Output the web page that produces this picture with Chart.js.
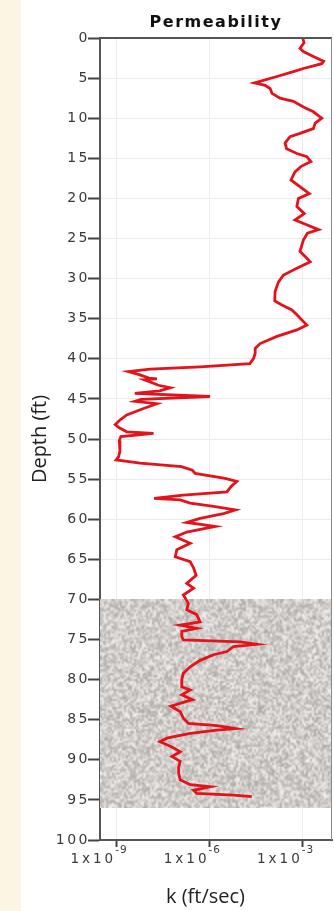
<!DOCTYPE html>
<html>
<head>
<meta charset="utf-8">
<script src="https://cdn.jsdelivr.net/npm/chart.js@4/dist/chart.umd.min.js"></script>
<style>
  html, body { margin: 0; padding: 0; background: #fdf5e3; }
  #panel { position: absolute; left: 21px; top: 0; width: 313px; height: 911px; background: #fff; }
  canvas { display: block; }
</style>
</head>
<body>
<div id="panel"><canvas id="permChart" width="313" height="911"></canvas></div>
<script>
var depthFt = [
  0.0, 0.6, 1.3, 1.7, 2.3, 2.9, 3.2, 3.8, 4.2, 4.8,
  5.6, 5.9, 6.3, 6.9, 7.5, 7.9, 8.6, 9.2, 10.0, 10.6,
  11.3, 11.9, 12.3, 13.1, 13.8, 14.4, 14.8, 15.4, 16.0, 16.7,
  17.7, 19.4, 20.0, 21.0, 21.9, 22.7, 23.9, 24.35, 25.2, 26.6,
  27.9, 28.7, 29.55, 30.4, 31.6, 32.8, 33.3, 33.9, 34.5, 35.8,
  36.4, 37.2, 38.1, 38.7, 39.3, 39.95, 40.6, 41.0, 41.3, 41.6,
  42.0, 42.4, 42.5, 42.6, 43.3, 43.6, 44.0, 44.3, 44.7, 45.05,
  45.3, 45.6, 46.2, 47.0, 47.6, 48.2, 48.6, 49.1, 49.3, 49.7,
  50.2, 51.5, 52.2, 52.6, 53.0, 53.45, 53.9, 54.3, 54.9, 55.3,
  55.9, 56.6, 57.0, 57.4, 57.6, 58.0, 58.4, 58.85, 59.3, 59.9,
  60.4, 60.9, 61.6, 62.2, 63.0, 63.8, 64.7, 65.3, 66.1, 67.0,
  68.0, 68.6, 69.45, 70.5, 71.3, 71.9, 72.8, 73.2, 73.6, 74.0,
  74.65, 75.06, 75.3, 75.6, 75.9, 76.5, 76.9, 77.6, 78.4, 79.2,
  80.0, 80.9, 81.3, 81.9, 82.5, 83.3, 84.0, 84.8, 85.45, 85.75,
  86.1, 86.3, 86.7, 87.3, 87.75, 88.4, 89.0, 89.6, 90.2, 90.9,
  91.7, 92.5, 93.1, 93.35, 93.8, 94.2, 94.4, 94.6
];
var logK = [
  -3.00, -2.96, -3.09, -2.98, -2.66, -2.33, -2.39, -2.98, -3.30, -3.83,
  -4.55, -4.21, -4.05, -3.99, -3.73, -3.30, -2.98, -2.66, -2.39, -2.60,
  -2.66, -3.09, -3.41, -3.57, -3.52, -3.19, -2.87, -2.74, -3.05, -3.25,
  -3.38, -2.79, -3.14, -3.19, -2.95, -3.25, -2.49, -2.85, -2.98, -3.09,
  -2.76, -3.19, -3.62, -3.78, -3.89, -3.90, -3.67, -3.35, -3.19, -2.87,
  -3.19, -3.83, -4.37, -4.53, -4.53, -4.58, -4.70, -6.30, -7.91, -8.60,
  -8.23, -7.95, -7.69, -8.10, -7.64, -7.26, -7.60, -8.40, -5.98, -8.20,
  -8.40, -7.69, -8.12, -8.66, -8.87, -9.03, -8.90, -8.66, -7.80, -8.85,
  -8.90, -8.88, -8.92, -9.00, -8.23, -6.90, -6.55, -6.46, -5.50, -5.12,
  -5.30, -5.44, -6.84, -7.78, -6.94, -6.62, -5.87, -5.17, -5.55, -6.30,
  -6.73, -5.82, -6.73, -7.10, -6.62, -7.05, -7.10, -6.62, -6.51, -6.43,
  -6.73, -6.51, -6.84, -6.68, -6.73, -6.41, -6.30, -6.94, -6.41, -6.89,
  -6.89, -6.84, -5.01, -4.48, -5.23, -5.44, -5.87, -6.30, -6.62, -6.84,
  -6.89, -6.89, -6.62, -6.89, -6.55, -7.24, -6.94, -6.84, -6.68, -5.76,
  -5.17, -5.76, -6.62, -7.37, -7.59, -7.21, -6.94, -7.21, -6.94, -6.99,
  -6.99, -6.94, -6.62, -5.98, -6.51, -6.41, -5.23, -4.64
];
var kTickExp = [-9, -6, -3];
var kMinExp = -9.52, kMaxExp = -2.06;
var depthMin = 0, depthMax = 100, depthStep = 5;
var sandTop = 70, sandBottom = 96;

function mulberry32(a) {
  return function () {
    a |= 0; a = a + 0x6D2B79F5 | 0;
    var t = Math.imul(a ^ a >>> 15, 1 | a);
    t = t + Math.imul(t ^ t >>> 7, 61 | t) ^ t;
    return ((t ^ t >>> 14) >>> 0) / 4294967296;
  };
}

// grainy gray fill for the sand layer
var sandImg = null;
function makeSandTexture(w, h) {
  var rand = mulberry32(11);
  var sw = Math.ceil(w / 2), sh = Math.ceil(h / 2);
  var small = document.createElement('canvas');
  small.width = sw; small.height = sh;
  var sctx = small.getContext('2d');
  var img = sctx.createImageData(sw, sh);
  for (var i = 0; i < sw * sh; i++) {
    var g = 168 + rand() * 74;
    img.data[i * 4] = g + 3;
    img.data[i * 4 + 1] = g;
    img.data[i * 4 + 2] = g - 3;
    img.data[i * 4 + 3] = 255;
  }
  sctx.putImageData(img, 0, 0);
  var big = document.createElement('canvas');
  big.width = w; big.height = h;
  var bctx = big.getContext('2d');
  bctx.imageSmoothingEnabled = true;
  bctx.drawImage(small, 0, 0, w, h);
  return big;
}

var sandPlugin = {
  id: 'sand',
  beforeDraw: function (chart) {
    chart.ctx.letterSpacing = '0px';
  },
  beforeDatasetsDraw: function (chart) {
    var ctx = chart.ctx, area = chart.chartArea, y = chart.scales.y;
    var y0 = y.getPixelForValue(sandTop), y1 = y.getPixelForValue(sandBottom);
    var w = Math.round(area.right - area.left), h = Math.round(y1 - y0);
    if (!sandImg || sandImg.width !== w || sandImg.height !== h) sandImg = makeSandTexture(w, h);
    ctx.drawImage(sandImg, area.left, y0, w, h);
  },
  afterDatasetsDraw: function (chart) {
    // spaced-out digits on the depth ticks
    chart.ctx.letterSpacing = '2.5px';
  }
};

var textPlugin = {
  id: 'texts',
  afterDraw: function (chart) {
    var ctx = chart.ctx, area = chart.chartArea, x = chart.scales.x;
    ctx.save();
    // frame top and right
    ctx.letterSpacing = '0px';
    ctx.strokeStyle = '#555';
    ctx.lineWidth = 2;
    ctx.beginPath();
    ctx.moveTo(area.left, area.top);
    ctx.lineTo(area.right, area.top);
    ctx.stroke();
    ctx.strokeStyle = '#8a8a8a';
    ctx.lineWidth = 1;
    ctx.beginPath();
    ctx.moveTo(area.right - 0.5, area.top);
    ctx.lineTo(area.right - 0.5, area.bottom);
    ctx.stroke();

    // title
    ctx.fillStyle = '#111';
    ctx.font = 'bold 16px "DejaVu Sans"';
    ctx.letterSpacing = '1.5px';
    ctx.textAlign = 'center';
    ctx.textBaseline = 'alphabetic';
    ctx.fillText('Permeability', (area.left + area.right) / 2, 27);

    // k tick labels 1x10^n
    ctx.fillStyle = '#3a3a3a';
    kTickExp.forEach(function (v) {
      var px = x.getPixelForValue(v);
      ctx.font = '13.5px "DejaVu Sans"';
      ctx.letterSpacing = '3px';
      ctx.textAlign = 'right';
      ctx.fillText('1x10', px, area.bottom + 23);
      ctx.font = '10.5px "DejaVu Sans"';
      ctx.letterSpacing = '1px';
      ctx.textAlign = 'left';
      ctx.fillText(String(v), px - 1, area.bottom + 13);
    });

    // x axis title
    ctx.fillStyle = '#222';
    ctx.font = '20px "Open Sans"';
    ctx.letterSpacing = '0px';
    ctx.textAlign = 'center';
    ctx.textBaseline = 'middle';
    ctx.fillText('k (ft/sec)', (area.left + area.right) / 2 - 10.5, area.bottom + 57);
    ctx.restore();
  }
};

var ctx = document.getElementById('permChart');
new Chart(ctx, {
  type: 'scatter',
  data: {
    datasets: [{
      label: 'Permeability',
      data: depthFt.map(function (d, i) { return { x: logK[i], y: d }; }),
      showLine: true,
      borderColor: '#e3121b',
      borderWidth: 2.8,
      pointRadius: 0,
      tension: 0,
      fill: false
    }]
  },
  options: {
    responsive: false,
    animation: false,
    events: [],
    layout: { padding: { top: 38, right: 2, left: 0, bottom: 0 } },
    plugins: {
      legend: { display: false },
      tooltip: { enabled: false },
      title: { display: false }
    },
    scales: {
      x: {
        type: 'linear',
        position: 'bottom',
        min: kMinExp,
        max: kMaxExp,
        afterBuildTicks: function (scale) {
          scale.ticks = kTickExp.map(function (v) { return { value: v }; });
        },
        afterFit: function (scale) { scale.height = 71; },
        ticks: { display: false },
        grid: { color: '#ebebeb', lineWidth: 1, tickColor: '#444', tickLength: 7, tickWidth: 2 },
        border: { color: '#555', width: 2 }
      },
      y: {
        type: 'linear',
        reverse: true,
        min: depthMin,
        max: depthMax,
        afterFit: function (scale) { scale.width = 79; },
        ticks: {
          stepSize: depthStep,
          autoSkip: false,
          padding: -2,
          color: '#3a3a3a',
          font: { family: 'DejaVu Sans', size: 14 },
          z: 1
        },
        grid: { color: '#ebebeb', lineWidth: 1, tickColor: '#444', tickLength: 12, tickWidth: 2 },
        border: { color: '#555', width: 2 },
        title: {
          display: true,
          text: 'Depth (ft)',
          color: '#222',
          font: { family: 'Open Sans', size: 20 },
          padding: { top: 7.5, bottom: 0 }
        }
      }
    }
  },
  plugins: [sandPlugin, textPlugin]
});
</script>
</body>
</html>
